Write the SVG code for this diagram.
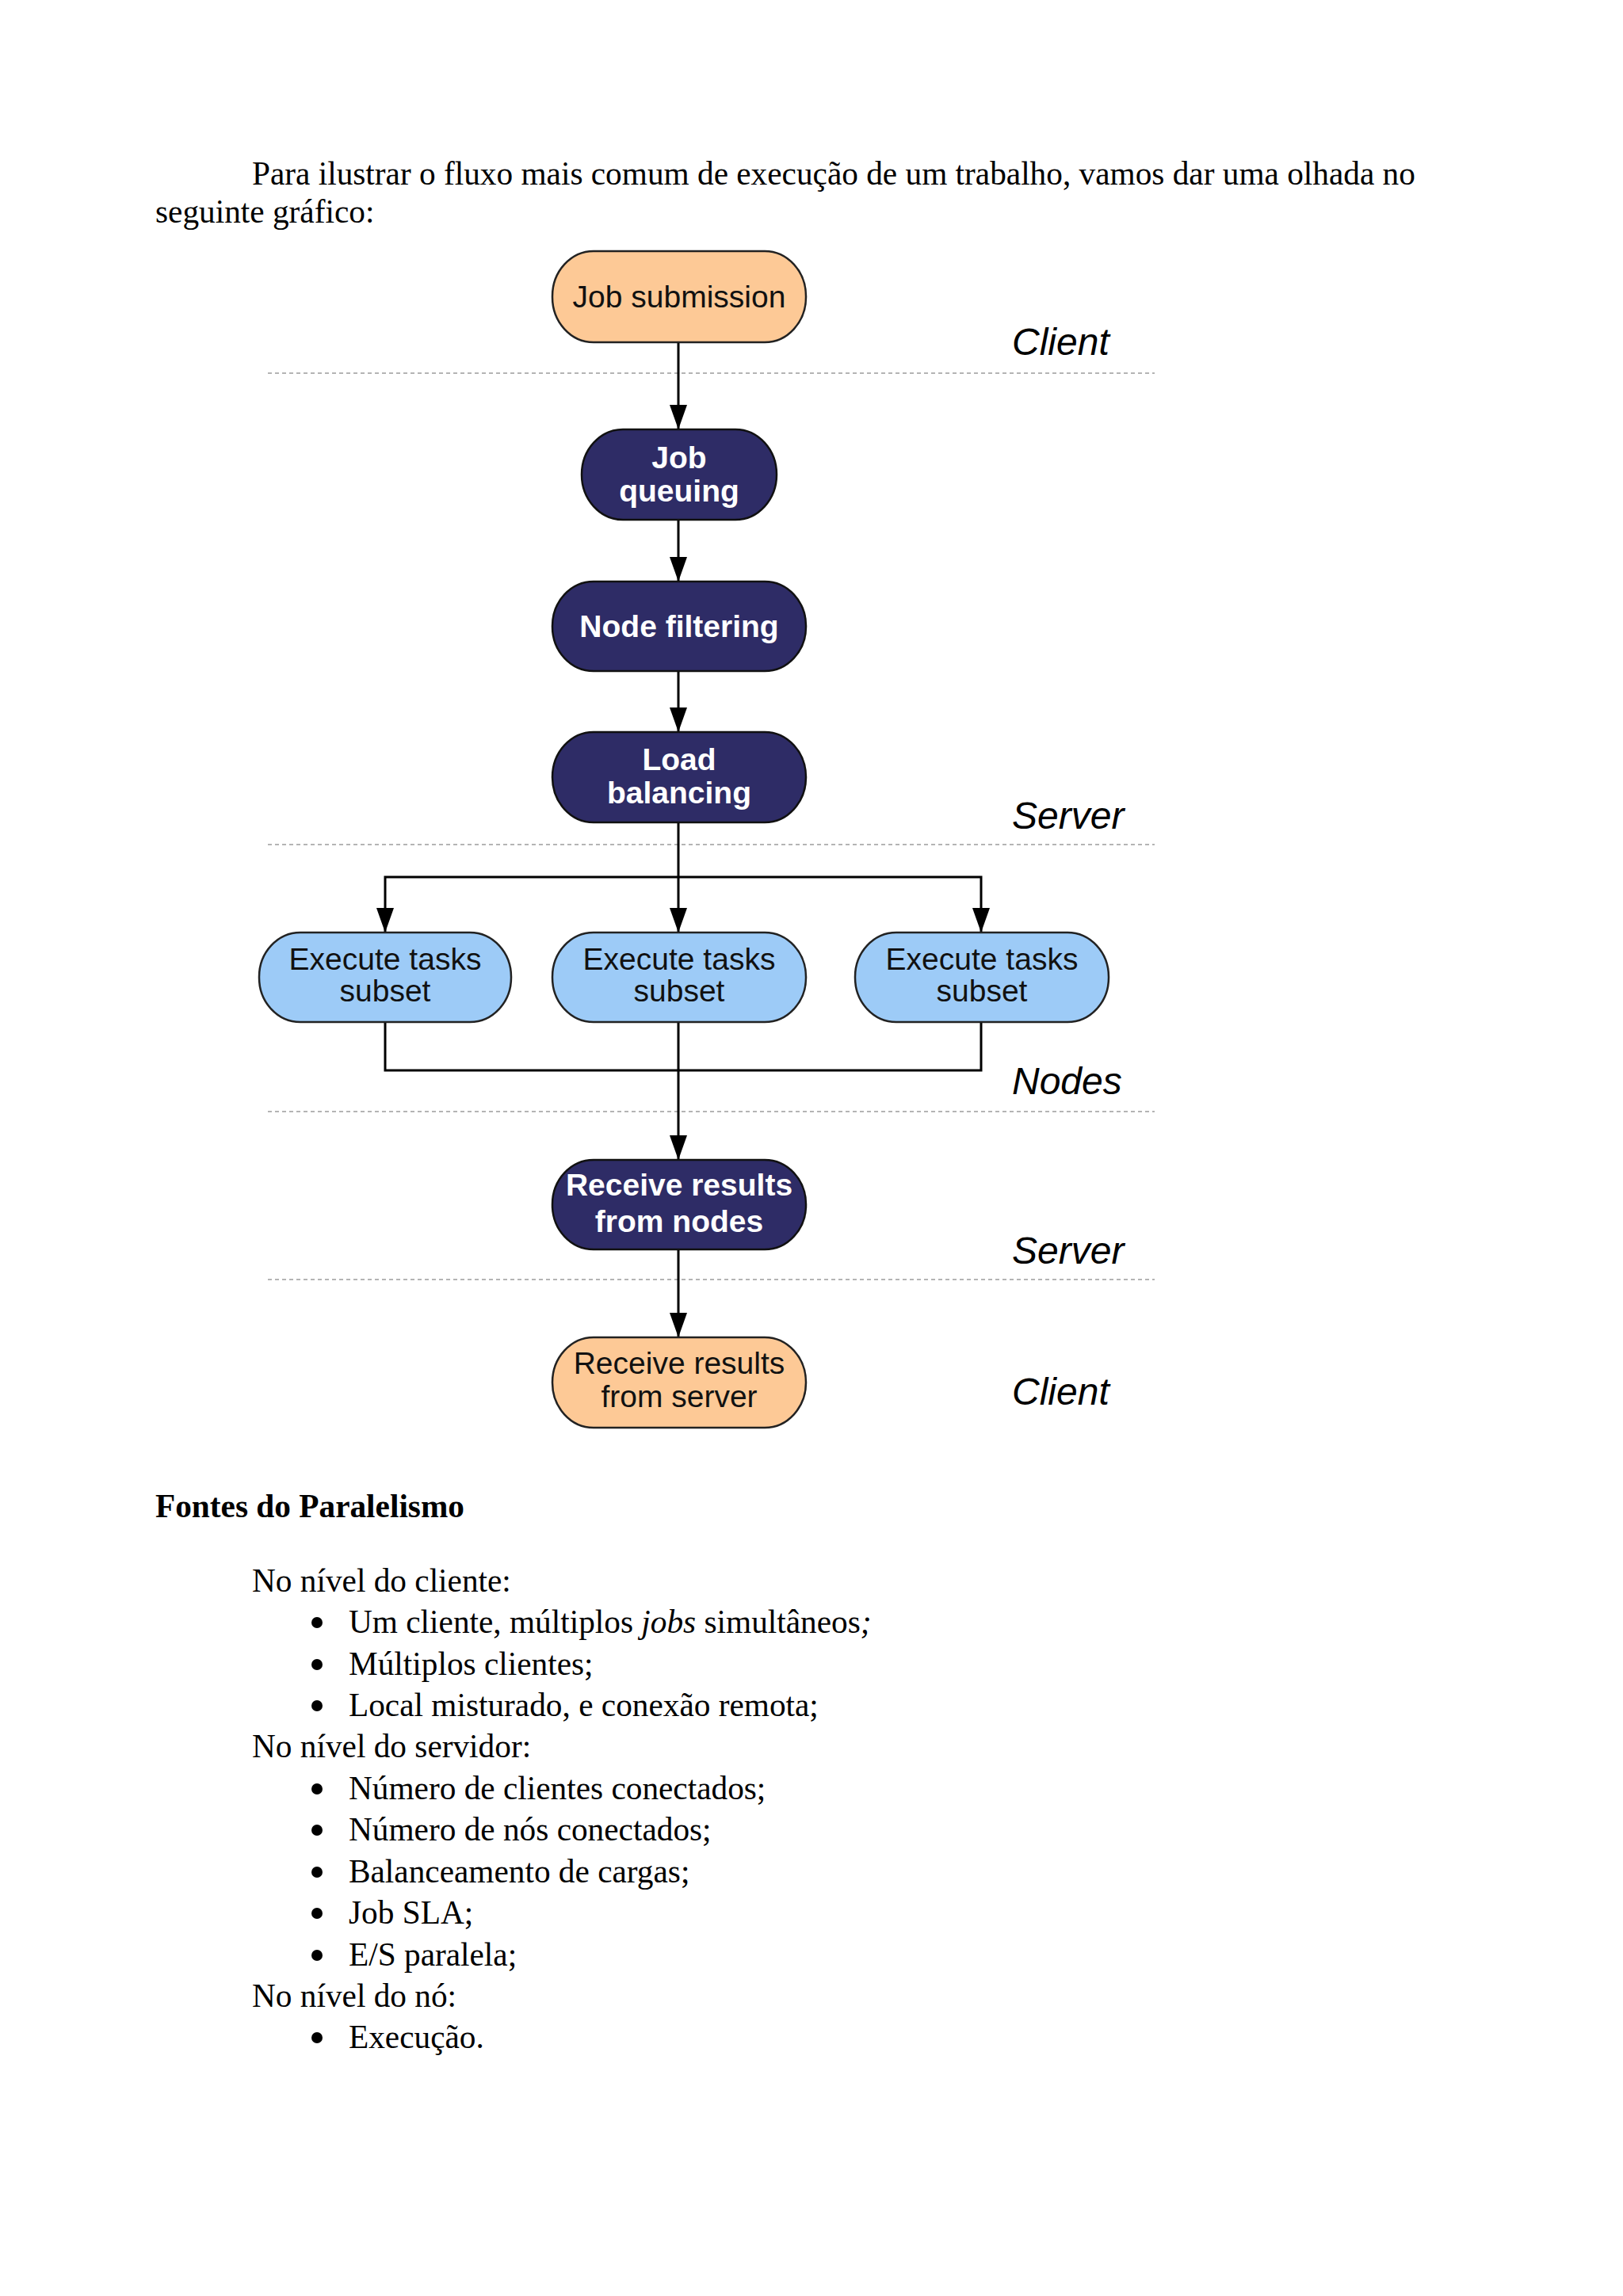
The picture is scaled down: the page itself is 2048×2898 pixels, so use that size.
<svg xmlns="http://www.w3.org/2000/svg" width="2048" height="2898" viewBox="0 0 2048 2898">
<style>
.body{font-family:"Liberation Serif","Times New Roman",serif;font-size:41.3px;fill:#000}
.bold{font-weight:bold}
.lane{font-family:"Liberation Sans",Arial,sans-serif;font-size:48px;font-style:italic;fill:#000}
.nt{font-family:"Liberation Sans",Arial,sans-serif;font-size:39px;text-anchor:middle}
.dark{fill:#2e2c66;stroke:#111;stroke-width:2.5}
.peach{fill:#fdc996;stroke:#222;stroke-width:2.5}
.blue{fill:#9dcbf7;stroke:#222;stroke-width:2.5}
.wt{fill:#fff;font-weight:bold}
.bt{fill:#111}
.sep{stroke:#b4b4b4;stroke-width:2;stroke-dasharray:5 4;fill:none}
.edge{stroke:#000;stroke-width:3;fill:none}
</style>
<defs>
<marker id="arr" markerUnits="userSpaceOnUse" markerWidth="32" markerHeight="24" refX="31" refY="11" orient="auto">
<path d="M0,0 L31,11 L0,22 z" fill="#000"/>
</marker>
</defs>
<rect width="2048" height="2898" fill="#fff"/>
<g id="intro">
<text class="body" x="318" y="233">Para ilustrar o fluxo mais comum de execução de um trabalho, vamos dar uma olhada no</text>
<text class="body" x="196" y="281">seguinte gráfico:</text>
</g>
<g id="separators">
<line class="sep" x1="338" y1="471" x2="1457" y2="471"/>
<line class="sep" x1="338" y1="1066" x2="1457" y2="1066"/>
<line class="sep" x1="338" y1="1403" x2="1457" y2="1403"/>
<line class="sep" x1="338" y1="1615" x2="1457" y2="1615"/>
</g>
<g id="lanes">
<text class="lane" x="1277" y="448">Client</text>
<text class="lane" x="1277" y="1046">Server</text>
<text class="lane" x="1277" y="1381">Nodes</text>
<text class="lane" x="1277" y="1595">Server</text>
<text class="lane" x="1277" y="1773">Client</text>
</g>
<g id="connectors">
<path class="edge" d="M856,433 L856,542" marker-end="url(#arr)"/>
<path class="edge" d="M856,656 L856,734" marker-end="url(#arr)"/>
<path class="edge" d="M856,847 L856,924" marker-end="url(#arr)"/>
<path class="edge" d="M856,1039 L856,1177" marker-end="url(#arr)"/>
<path class="edge" d="M856,1107 L486,1107 L486,1177" marker-end="url(#arr)"/>
<path class="edge" d="M856,1107 L1238,1107 L1238,1177" marker-end="url(#arr)"/>
<path class="edge" d="M486,1290 L486,1351 L1238,1351 L1238,1290"/>
<path class="edge" d="M856,1290 L856,1464" marker-end="url(#arr)"/>
<path class="edge" d="M856,1577 L856,1688" marker-end="url(#arr)"/>
</g>
<g id="job-submission">
<rect class="peach" x="697" y="317" width="320" height="115" rx="52" ry="57"/>
<text class="nt bt" x="857" y="388">Job submission</text>
</g>
<g id="job-queuing">
<rect class="dark" x="734" y="542" width="246" height="114" rx="52" ry="57"/>
<text class="nt wt" x="857" y="591">Job</text>
<text class="nt wt" x="857" y="633">queuing</text>
</g>
<g id="node-filtering">
<rect class="dark" x="697" y="734" width="320" height="113" rx="52" ry="56"/>
<text class="nt wt" x="857" y="804">Node filtering</text>
</g>
<g id="load-balancing">
<rect class="dark" x="697" y="924" width="320" height="114" rx="52" ry="57"/>
<text class="nt wt" x="857" y="972">Load</text>
<text class="nt wt" x="857" y="1014">balancing</text>
</g>
<g id="execute-1">
<rect class="blue" x="327" y="1177" width="318" height="113" rx="52" ry="56"/>
<text class="nt bt" x="486" y="1224">Execute tasks</text>
<text class="nt bt" x="486" y="1264">subset</text>
</g>
<g id="execute-2">
<rect class="blue" x="697" y="1177" width="320" height="113" rx="52" ry="56"/>
<text class="nt bt" x="857" y="1224">Execute tasks</text>
<text class="nt bt" x="857" y="1264">subset</text>
</g>
<g id="execute-3">
<rect class="blue" x="1079" y="1177" width="320" height="113" rx="52" ry="56"/>
<text class="nt bt" x="1239" y="1224">Execute tasks</text>
<text class="nt bt" x="1239" y="1264">subset</text>
</g>
<g id="receive-nodes">
<rect class="dark" x="697" y="1464" width="320" height="113" rx="52" ry="56"/>
<text class="nt wt" x="857" y="1509">Receive results</text>
<text class="nt wt" x="857" y="1555">from nodes</text>
</g>
<g id="receive-server">
<rect class="peach" x="697" y="1688" width="320" height="114" rx="52" ry="57"/>
<text class="nt bt" x="857" y="1734">Receive results</text>
<text class="nt bt" x="857" y="1776">from server</text>
</g>
<g id="sources">
<text class="body bold" x="196" y="1915">Fontes do Paralelismo</text>
<text class="body" x="318" y="2009">No nível do cliente:</text>
<circle cx="400" cy="2048" r="7"/>
<text class="body" x="440" y="2061">Um cliente, múltiplos <tspan font-style="italic">jobs</tspan> simultâneos<tspan font-style="italic">;</tspan></text>
<circle cx="400" cy="2101" r="7"/>
<text class="body" x="440" y="2114">Múltiplos clientes;</text>
<circle cx="400" cy="2153" r="7"/>
<text class="body" x="440" y="2166">Local misturado, e conexão remota;</text>
<text class="body" x="318" y="2218">No nível do servidor:</text>
<circle cx="400" cy="2258" r="7"/>
<text class="body" x="440" y="2271">Número de clientes conectados;</text>
<circle cx="400" cy="2310" r="7"/>
<text class="body" x="440" y="2323">Número de nós conectados;</text>
<circle cx="400" cy="2363" r="7"/>
<text class="body" x="440" y="2376">Balanceamento de cargas;</text>
<circle cx="400" cy="2415" r="7"/>
<text class="body" x="440" y="2428">Job SLA;</text>
<circle cx="400" cy="2468" r="7"/>
<text class="body" x="440" y="2481">E/S paralela;</text>
<text class="body" x="318" y="2533">No nível do nó:</text>
<circle cx="400" cy="2572" r="7"/>
<text class="body" x="440" y="2585">Execução.</text>
</g>
</svg>
